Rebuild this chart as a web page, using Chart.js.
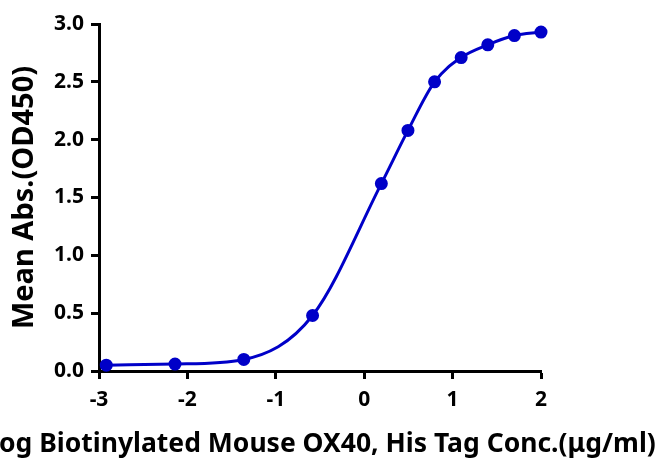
<!DOCTYPE html>
<html>
<head>
<meta charset="utf-8">
<script src="https://cdn.jsdelivr.net/npm/chart.js@4"></script>
<style>
  html, body { margin:0; padding:0; background:#fff; }
  #wrap { width:656px; height:459px; }
</style>
</head>
<body>
<div id="wrap"><canvas id="c" width="656" height="459"></canvas></div>
<script>
  // log10 concentration (ug/ml) and mean OD450
  const logConc = [-2.918, -2.140, -1.362, -0.584, 0.194, 0.495, 0.796, 1.097, 1.398, 1.699, 2.0];
  const meanAbs = [0.05, 0.06, 0.10, 0.48, 1.62, 2.08, 2.50, 2.71, 2.82, 2.90, 2.93];
  const xTicks = [-3, -2, -1, 0, 1, 2];
  const yTicks = [0, 0.5, 1.0, 1.5, 2.0, 2.5, 3.0];
  const xTitle = 'Log Biotinylated Mouse OX40, His Tag Conc.(μg/ml)';
  const yTitle = 'Mean Abs.(OD450)';

  const blue = '#0000c8';
  const font = "'Noto Sans', sans-serif";

  // x title drawn by hand: Chart.js squeezes it to the axis width, the original overflows the canvas
  const xTitlePlugin = {
    id: 'xTitle',
    afterDraw(chart) {
      const { ctx, chartArea } = chart;
      ctx.save();
      ctx.font = `bold 26.5px ${font}`;
      ctx.fillStyle = '#000';
      ctx.textAlign = 'center';
      ctx.textBaseline = 'alphabetic';
      ctx.fillText(xTitle, (chartArea.left + chartArea.right) / 2, 452);
      ctx.restore();
    }
  };

  const ctx = document.getElementById('c').getContext('2d');
  new Chart(ctx, {
    type: 'scatter',
    data: {
      datasets: [{
        data: logConc.map((x, i) => ({ x, y: meanAbs[i] })),
        showLine: true,
        borderColor: blue,
        backgroundColor: blue,
        borderWidth: 3,
        pointRadius: 5,
        pointHoverRadius: 5,
        cubicInterpolationMode: 'monotone',
        clip: false
      }]
    },
    plugins: [xTitlePlugin],
    options: {
      responsive: false,
      animation: false,
      layout: { padding: { top: 24, right: 115, left: 0, bottom: 0 } },
      plugins: { legend: { display: false }, tooltip: { enabled: false } },
      scales: {
        x: {
          type: 'linear', min: -3, max: 2,
          afterBuildTicks: s => { s.ticks = xTicks.map(v => ({ value: v })); },
          afterFit: s => { s.height = 88; },
          border: { color: '#000', width: 3 },
          grid: { drawOnChartArea: false, tickLength: 8, tickWidth: 3, tickColor: '#000' },
          ticks: { color: '#000', padding: 8, font: { family: font, size: 21, weight: 'bold' } },
          title: { display: false }
        },
        y: {
          type: 'linear', min: 0, max: 3,
          afterBuildTicks: s => { s.ticks = yTicks.map(v => ({ value: v })); },
          afterFit: s => { s.width = 99; },
          border: { color: '#000', width: 3 },
          grid: { drawOnChartArea: false, tickLength: 8, tickWidth: 3, tickColor: '#000' },
          ticks: { color: '#000', padding: 7, callback: v => v.toFixed(1),
                   font: { family: font, size: 21, weight: 'bold' } },
          title: { display: true, text: yTitle, color: '#000',
                   padding: { top: 7, bottom: 0 }, font: { family: font, size: 29, weight: 'bold' } }
        }
      }
    }
  });
</script>
</body>
</html>
